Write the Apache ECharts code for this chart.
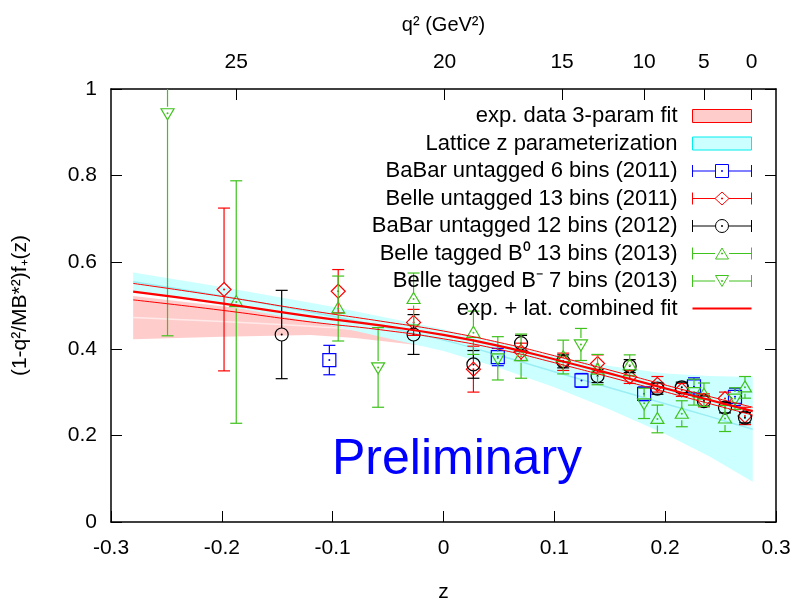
<!DOCTYPE html>
<html>
<head>
<meta charset="utf-8">
<script src="https://cdn.jsdelivr.net/npm/echarts@6/dist/echarts.min.js"></script>
<style>
  html, body { margin: 0; padding: 0; background: #fff; }
  #chart { width: 796px; height: 602px; }
</style>
</head>
<body>
<div id="chart"></div>
<script>
// ---- data ----
// top axis: q^2 tick labels and where they sit in z
const q2Labels = [25, 20, 15, 10, 5, 0]
const q2TickZ = [-0.187, 0.001, 0.107, 0.181, 0.235, 0.278]

// exp. data 3-param fit band
const expZ = [-0.28, -0.2, -0.12, -0.08, 0, 0.05, 0.1, 0.15, 0.2, 0.24, 0.279]
const expUpper = [0.522, 0.498, 0.473, 0.463, 0.432, 0.409, 0.382, 0.351, 0.317, 0.289, 0.262]
const expLower = [0.422, 0.428, 0.432, 0.425, 0.402, 0.384, 0.36, 0.332, 0.299, 0.271, 0.242]
const expMid = [0.472, 0.463, 0.452, 0.444, 0.417, 0.396, 0.371, 0.341, 0.308, 0.28, 0.252]

// lattice z parameterization band
const latZ = [-0.28, -0.2, -0.1, 0, 0.05, 0.1, 0.15, 0.2, 0.24, 0.279]
const latUpper = [0.576, 0.543, 0.497, 0.445, 0.414, 0.383, 0.36, 0.343, 0.337, 0.335]
const latLower = [0.534, 0.501, 0.453, 0.395, 0.356, 0.311, 0.26, 0.203, 0.151, 0.093]
const latMid = [0.555, 0.522, 0.475, 0.42, 0.385, 0.347, 0.31, 0.273, 0.244, 0.214]

// exp. + lat. combined fit (central line and error lines)
const fitZ = [-0.28, -0.2, -0.12, -0.057, 0, 0.055, 0.1, 0.16, 0.22, 0.279]
const fitMid = [0.532, 0.505, 0.475, 0.454, 0.432, 0.404, 0.376, 0.336, 0.295, 0.256]
const fitUpper = [0.551, 0.521, 0.488, 0.464, 0.441, 0.412, 0.384, 0.344, 0.303, 0.265]
const fitLower = [0.513, 0.489, 0.462, 0.444, 0.423, 0.396, 0.368, 0.328, 0.287, 0.247]

// BaBar untagged 6 bins (2011)
const babar6Z = [-0.103, 0.049, 0.1245, 0.181, 0.226, 0.263]
const babar6Val = [0.374, 0.381, 0.327, 0.296, 0.313, 0.289]
const babar6Err = [0.034, 0.02, 0.016, 0.016, 0.02, 0.02]

// Belle untagged 13 bins (2011)
const belleUZ = [-0.198, -0.095, -0.027, 0.027, 0.07, 0.108, 0.139, 0.168, 0.193, 0.215, 0.235, 0.254, 0.272]
const belleUVal = [0.537, 0.533, 0.461, 0.353, 0.393, 0.37, 0.366, 0.335, 0.318, 0.305, 0.281, 0.285, 0.245]
const belleUErr = [0.188, 0.05, 0.03, 0.053, 0.02, 0.02, 0.02, 0.015, 0.018, 0.015, 0.015, 0.015, 0.02]

// BaBar untagged 12 bins (2012)
const babar12Z = [-0.146, -0.027, 0.027, 0.07, 0.108, 0.139, 0.168, 0.193, 0.215, 0.235, 0.254, 0.272]
const babar12Val = [0.433, 0.433, 0.364, 0.413, 0.371, 0.337, 0.36, 0.308, 0.311, 0.279, 0.264, 0.241]
const babar12Err = [0.102, 0.046, 0.032, 0.018, 0.015, 0.015, 0.015, 0.013, 0.012, 0.012, 0.012, 0.012]

// Belle tagged B0 13 bins (2013)
const belleB0Z = [-0.187, -0.095, -0.027, 0.027, 0.07, 0.108, 0.139, 0.168, 0.193, 0.215, 0.235, 0.254, 0.272]
const belleB0Val = [0.508, 0.493, 0.515, 0.437, 0.383, 0.381, 0.352, 0.362, 0.238, 0.25, 0.294, 0.239, 0.311]
const belleB0Err = [0.28, 0.075, 0.06, 0.05, 0.051, 0.039, 0.035, 0.024, 0.032, 0.03, 0.027, 0.03, 0.025]

// Belle tagged B- 7 bins (2013)
const belleBmZ = [-0.249, -0.059, 0.049, 0.124, 0.181, 0.226, 0.263]
const belleBmVal = [0.944, 0.357, 0.378, 0.41, 0.274, 0.3, 0.285]
const belleBmErr = [0.514, 0.092, 0.05, 0.037, 0.035, 0.03, 0.025]

const FONT = "'Liberation Sans', Arial, Helvetica, sans-serif"
const GREEN = '#3fc21c'

function rows(zs, vals, errs) {
  return zs.map((z, i) => [z, vals[i], errs[i]])
}

function marker(shape, p, color) {
  const x = p[0], y = p[1]
  const style = { fill: 'none', stroke: color, lineWidth: 1.2 }
  if (shape === 'square') return { type: 'rect', shape: { x: x - 6.5, y: y - 6.5, width: 13, height: 13 }, style }
  if (shape === 'circle') return { type: 'circle', shape: { cx: x, cy: y, r: 6.5 }, style }
  if (shape === 'diamond') return { type: 'polygon', shape: { points: [[x, y - 7], [x + 7, y], [x, y + 7], [x - 7, y]] }, style }
  if (shape === 'triUp') return { type: 'polygon', shape: { points: [[x, y - 6.5], [x + 6.5, y + 4.5], [x - 6.5, y + 4.5]] }, style }
  return { type: 'polygon', shape: { points: [[x - 6.5, y - 4.5], [x + 6.5, y - 4.5], [x, y + 6.5]] }, style }
}

function errorBars(shape) {
  return function (params, api) {
    const z = api.value(0), v = api.value(1), e = api.value(2)
    const color = api.visual('color')
    const p = api.coord([z, v])
    const hi = api.coord([z, v + e])
    const lo = api.coord([z, v - e])
    const gap = 6.5, cap = 6
    const ls = { stroke: color, lineWidth: 1.2 }
    const kids = []
    if (p[1] - hi[1] > gap) kids.push({ type: 'line', shape: { x1: p[0], y1: hi[1], x2: p[0], y2: p[1] - gap }, style: ls })
    if (lo[1] - p[1] > gap) kids.push({ type: 'line', shape: { x1: p[0], y1: p[1] + gap, x2: p[0], y2: lo[1] }, style: ls })
    kids.push({ type: 'line', shape: { x1: p[0] - cap, y1: hi[1], x2: p[0] + cap, y2: hi[1] }, style: ls })
    kids.push({ type: 'line', shape: { x1: p[0] - cap, y1: lo[1], x2: p[0] + cap, y2: lo[1] }, style: ls })
    kids.push(marker(shape, p, color))
    kids.push({ type: 'circle', shape: { cx: p[0], cy: p[1], r: 1 }, style: { fill: color } })
    return { type: 'group', children: kids }
  }
}

function band(zs, lower, upper, mid, fill, midColor) {
  return function (params, api) {
    if (params.dataIndex !== 0) return null
    const top = zs.map((z, i) => api.coord([z, upper[i]]))
    const bot = zs.map((z, i) => api.coord([z, lower[i]])).reverse()
    const line = zs.map((z, i) => api.coord([z, mid[i]]))
    return {
      type: 'group',
      children: [
        { type: 'polygon', shape: { points: top.concat(bot) }, style: { fill: fill, blend: 'multiply' } },
        { type: 'polyline', shape: { points: line, smooth: 0.3 }, style: { fill: null, stroke: midColor, lineWidth: 1.5, blend: 'multiply' } }
      ]
    }
  }
}

function errIcon(shapePath) {
  return 'path://M0,0.5L0,12.5M59,0.5L59,12.5M0,6.5L22.5,6.5M36.5,6.5L59,6.5' + shapePath + 'M29,6L30,6L30,7L29,7Z'
}

const names = {
  exp: 'exp. data 3-param fit',
  lat: 'Lattice z parameterization',
  babar6: 'BaBar untagged 6 bins (2011)',
  belleU: 'Belle untagged 13 bins (2011)',
  babar12: 'BaBar untagged 12 bins (2012)',
  belleB0: 'Belle tagged B⁰ 13 bins (2013)',
  belleBm: 'Belle tagged B⁻ 7 bins (2013)',
  fit: 'exp. + lat. combined fit'
}

const frame = { onZero: false, lineStyle: { color: '#000', width: 1.5 } }
const inTick = { show: true, inside: true, length: 11, lineStyle: { color: '#000' } }

const myChart = echarts.init(document.getElementById('chart'))

const option = {
  animation: false,
  textStyle: { fontFamily: FONT },
  title: {
    text: 'Preliminary',
    left: 332,
    top: 435,
    padding: 0,
    textStyle: { color: '#0000ff', fontSize: 50, fontWeight: 'normal', fontFamily: FONT }
  },
  grid: { left: 111, right: 20, top: 89, bottom: 80, containLabel: false, outerBoundsMode: 'none' },
  legend: {
    orient: 'vertical',
    right: 44,
    top: 105,
    padding: 0,
    align: 'right',
    itemWidth: 59,
    itemHeight: 13,
    itemGap: 5.5,
    selectedMode: false,
    textStyle: { fontSize: 22, color: '#000', fontFamily: FONT, padding: [0, 10, 0, 0] },
    data: [
      { name: names.exp, icon: 'rect', itemStyle: { color: '#ffcccc', borderColor: '#ff0000', borderWidth: 1 } },
      { name: names.lat, icon: 'rect', itemStyle: { color: '#ccffff', borderColor: '#00eeee', borderWidth: 1 } },
      { name: names.babar6, icon: errIcon('M23,0L36,0L36,13L23,13Z'), itemStyle: { color: 'transparent', borderColor: '#0000ff', borderWidth: 1 } },
      { name: names.belleU, icon: errIcon('M29.5,0L36.5,6.5L29.5,13L22.5,6.5Z'), itemStyle: { color: 'transparent', borderColor: '#ff0000', borderWidth: 1 } },
      { name: names.babar12, icon: errIcon('M23,6.5A6.5,6.5 0 1 1 36,6.5A6.5,6.5 0 1 1 23,6.5Z'), itemStyle: { color: 'transparent', borderColor: '#000', borderWidth: 1 } },
      { name: names.belleB0, icon: errIcon('M29.5,1L36,12L23,12Z'), itemStyle: { color: 'transparent', borderColor: GREEN, borderWidth: 1 } },
      { name: names.belleBm, icon: errIcon('M23,1L36,1L29.5,12Z'), itemStyle: { color: 'transparent', borderColor: GREEN, borderWidth: 1 } },
      { name: names.fit, icon: 'path://M0,5.5L59,5.5L59,7.5L0,7.5Z', itemStyle: { color: '#ff0000', borderWidth: 0 } }
    ]
  },
  xAxis: [
    {
      type: 'value',
      position: 'bottom',
      min: -0.3,
      max: 0.3,
      interval: 0.1,
      name: 'z',
      nameLocation: 'middle',
      nameGap: 60,
      nameTextStyle: { fontSize: 21, color: '#000', fontFamily: FONT },
      axisLine: frame,
      axisTick: inTick,
      axisLabel: {
        margin: 16,
        fontSize: 21,
        color: '#000',
        formatter: (v) => String(Math.round(v * 10) / 10)
      },
      splitLine: { show: false }
    },
    {
      type: 'value',
      position: 'top',
      min: -0.3,
      max: 0.3,
      name: 'q² (GeV²)',
      nameLocation: 'middle',
      nameGap: 54,
      nameTextStyle: { fontSize: 20, color: '#000', fontFamily: FONT },
      axisLine: frame,
      axisTick: Object.assign({ customValues: q2TickZ }, inTick),
      axisLabel: {
        margin: 16,
        fontSize: 21,
        color: '#000',
        customValues: q2TickZ,
        formatter: (v) => {
          const i = q2TickZ.findIndex((t) => Math.abs(t - v) < 1e-6)
          return i >= 0 ? String(q2Labels[i]) : ''
        }
      },
      splitLine: { show: false }
    }
  ],
  yAxis: [
    {
      type: 'value',
      position: 'left',
      min: 0,
      max: 1,
      interval: 0.2,
      name: '(1-q²/MB*²)f₊(z)',
      nameLocation: 'middle',
      nameGap: 80,
      nameTextStyle: { fontSize: 21, color: '#000', fontFamily: FONT },
      axisLine: Object.assign({ show: true }, frame),
      axisTick: inTick,
      axisLabel: {
        margin: 14,
        fontSize: 21,
        color: '#000',
        formatter: (v) => String(Math.round(v * 10) / 10)
      },
      splitLine: { show: false }
    },
    {
      type: 'value',
      position: 'right',
      min: 0,
      max: 1,
      interval: 0.2,
      axisLine: Object.assign({ show: true }, frame),
      axisTick: inTick,
      axisLabel: { show: false },
      splitLine: { show: false }
    }
  ],
  series: [
    {
      name: names.exp,
      type: 'custom',
      clip: true,
      silent: true,
      itemStyle: { color: '#ffcccc' },
      renderItem: band(expZ, expLower, expUpper, expMid, '#ffcccc', '#ffeaea'),
      data: expZ.map((z, i) => [z, expLower[i], expUpper[i]])
    },
    {
      name: names.lat,
      type: 'custom',
      clip: true,
      silent: true,
      itemStyle: { color: '#ccffff' },
      renderItem: band(latZ, latLower, latUpper, latMid, '#ccffff', '#99eef4'),
      data: latZ.map((z, i) => [z, latLower[i], latUpper[i]])
    },
    {
      name: names.babar6,
      type: 'custom',
      clip: true,
      itemStyle: { color: '#0000ff' },
      renderItem: errorBars('square'),
      data: rows(babar6Z, babar6Val, babar6Err)
    },
    {
      name: names.belleU,
      type: 'custom',
      clip: true,
      itemStyle: { color: '#ff0000' },
      renderItem: errorBars('diamond'),
      data: rows(belleUZ, belleUVal, belleUErr)
    },
    {
      name: names.babar12,
      type: 'custom',
      clip: true,
      itemStyle: { color: '#000000' },
      renderItem: errorBars('circle'),
      data: rows(babar12Z, babar12Val, babar12Err)
    },
    {
      name: names.belleB0,
      type: 'custom',
      clip: true,
      itemStyle: { color: GREEN },
      renderItem: errorBars('triUp'),
      data: rows(belleB0Z, belleB0Val, belleB0Err)
    },
    {
      name: names.belleBm,
      type: 'custom',
      clip: true,
      itemStyle: { color: GREEN },
      renderItem: errorBars('triDown'),
      data: rows(belleBmZ, belleBmVal, belleBmErr)
    },
    {
      name: names.fit,
      type: 'line',
      smooth: true,
      showSymbol: false,
      silent: true,
      itemStyle: { color: '#ff0000' },
      lineStyle: { color: '#ff0000', width: 2.2 },
      data: fitZ.map((z, i) => [z, fitMid[i]])
    },
    {
      name: names.fit,
      type: 'line',
      smooth: true,
      showSymbol: false,
      silent: true,
      itemStyle: { color: '#ff0000' },
      lineStyle: { color: '#ff0000', width: 1 },
      data: fitZ.map((z, i) => [z, fitUpper[i]])
    },
    {
      name: names.fit,
      type: 'line',
      smooth: true,
      showSymbol: false,
      silent: true,
      itemStyle: { color: '#ff0000' },
      lineStyle: { color: '#ff0000', width: 1 },
      data: fitZ.map((z, i) => [z, fitLower[i]])
    }
  ]
}

myChart.setOption(option, true)
</script>
</body>
</html>
